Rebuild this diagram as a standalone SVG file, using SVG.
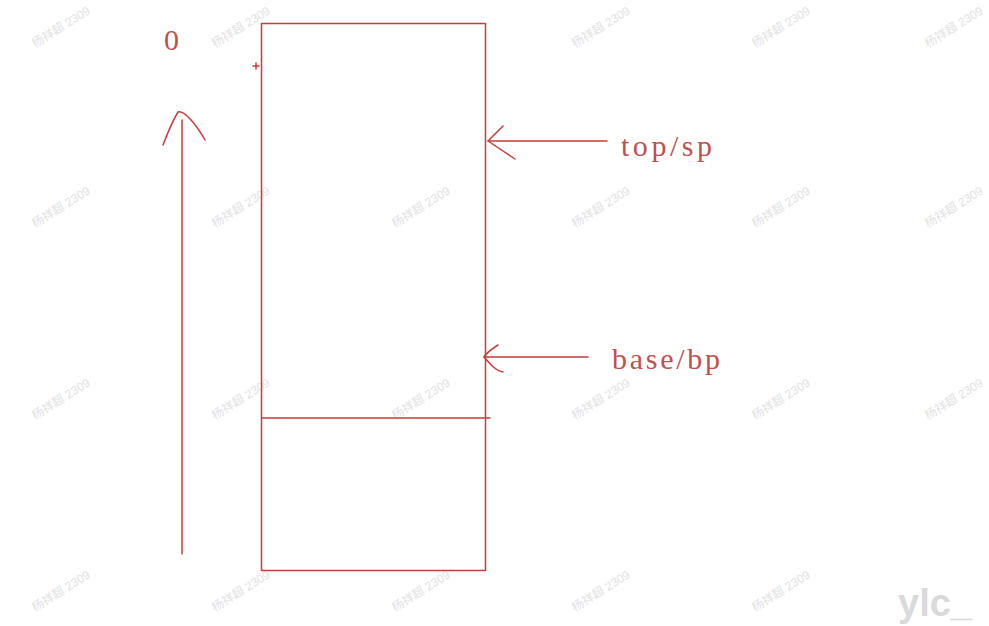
<svg xmlns="http://www.w3.org/2000/svg" width="989" height="626" viewBox="0 0 989 626">
<style>
.s{fill:none;stroke:#c83c3c;stroke-width:1.5;stroke-linecap:round;stroke-linejoin:round}
.t{fill:#c0504d;font-family:"Liberation Serif","DejaVu Serif",serif;font-size:30px}
.w{fill:#e2e2e2;font-family:"Liberation Sans","Noto Sans CJK SC",sans-serif;font-size:12px}
</style>
<rect width="989" height="626" fill="#fff"/>
<g id="watermarks">
<text class="w" transform="translate(35,48) rotate(-32)">杨祥超 2309</text>
<text class="w" transform="translate(215,48) rotate(-32)">杨祥超 2309</text>
<text class="w" transform="translate(575,48) rotate(-32)">杨祥超 2309</text>
<text class="w" transform="translate(755,48) rotate(-32)">杨祥超 2309</text>
<text class="w" transform="translate(928,48) rotate(-32)">杨祥超 2309</text>
<text class="w" transform="translate(35,228) rotate(-32)">杨祥超 2309</text>
<text class="w" transform="translate(215,228) rotate(-32)">杨祥超 2309</text>
<text class="w" transform="translate(395,228) rotate(-32)">杨祥超 2309</text>
<text class="w" transform="translate(575,228) rotate(-32)">杨祥超 2309</text>
<text class="w" transform="translate(755,228) rotate(-32)">杨祥超 2309</text>
<text class="w" transform="translate(928,228) rotate(-32)">杨祥超 2309</text>
<text class="w" transform="translate(35,420) rotate(-32)">杨祥超 2309</text>
<text class="w" transform="translate(215,420) rotate(-32)">杨祥超 2309</text>
<text class="w" transform="translate(395,420) rotate(-32)">杨祥超 2309</text>
<text class="w" transform="translate(575,420) rotate(-32)">杨祥超 2309</text>
<text class="w" transform="translate(755,420) rotate(-32)">杨祥超 2309</text>
<text class="w" transform="translate(928,420) rotate(-32)">杨祥超 2309</text>
<text class="w" transform="translate(35,612) rotate(-32)">杨祥超 2309</text>
<text class="w" transform="translate(215,612) rotate(-32)">杨祥超 2309</text>
<text class="w" transform="translate(395,612) rotate(-32)">杨祥超 2309</text>
<text class="w" transform="translate(575,612) rotate(-32)">杨祥超 2309</text>
<text class="w" transform="translate(755,612) rotate(-32)">杨祥超 2309</text>
<text x="898" y="616" fill="#dadada" font-family="'Liberation Sans',sans-serif" font-weight="bold" font-size="38">ylc_</text>
</g>
<g id="stack">
<rect class="s" x="261.5" y="23.5" width="224" height="547"/>
<line class="s" x1="261.5" y1="418" x2="490" y2="418"/>
<path class="s" d="M253,66 H259 M256,63 V69" stroke-width="1"/>
</g>
<g id="axis">
<text class="t" x="164" y="50" font-size="24">0</text>
</g>
<g id="labels">
<text class="t" x="621" y="156" textLength="91">top/sp</text>
<text class="t" x="612" y="369" font-size="32" textLength="108">base/bp</text>
</g>
<g id="connectors">
<line class="s" x1="182" y1="120" x2="182" y2="554"/>
<path class="s" d="M163,145 C168,132 173,120 178,112 C184,110 196,124 205,140"/>
<line class="s" x1="488" y1="141" x2="607" y2="141"/>
<path class="s" d="M503,126 L488,141 L515,159"/>
<line class="s" x1="484" y1="357" x2="588" y2="357"/>
<path class="s" d="M498,345 C490,350 486,354 484,357 C490,364 496,371 503,372"/>
</g>
</svg>
